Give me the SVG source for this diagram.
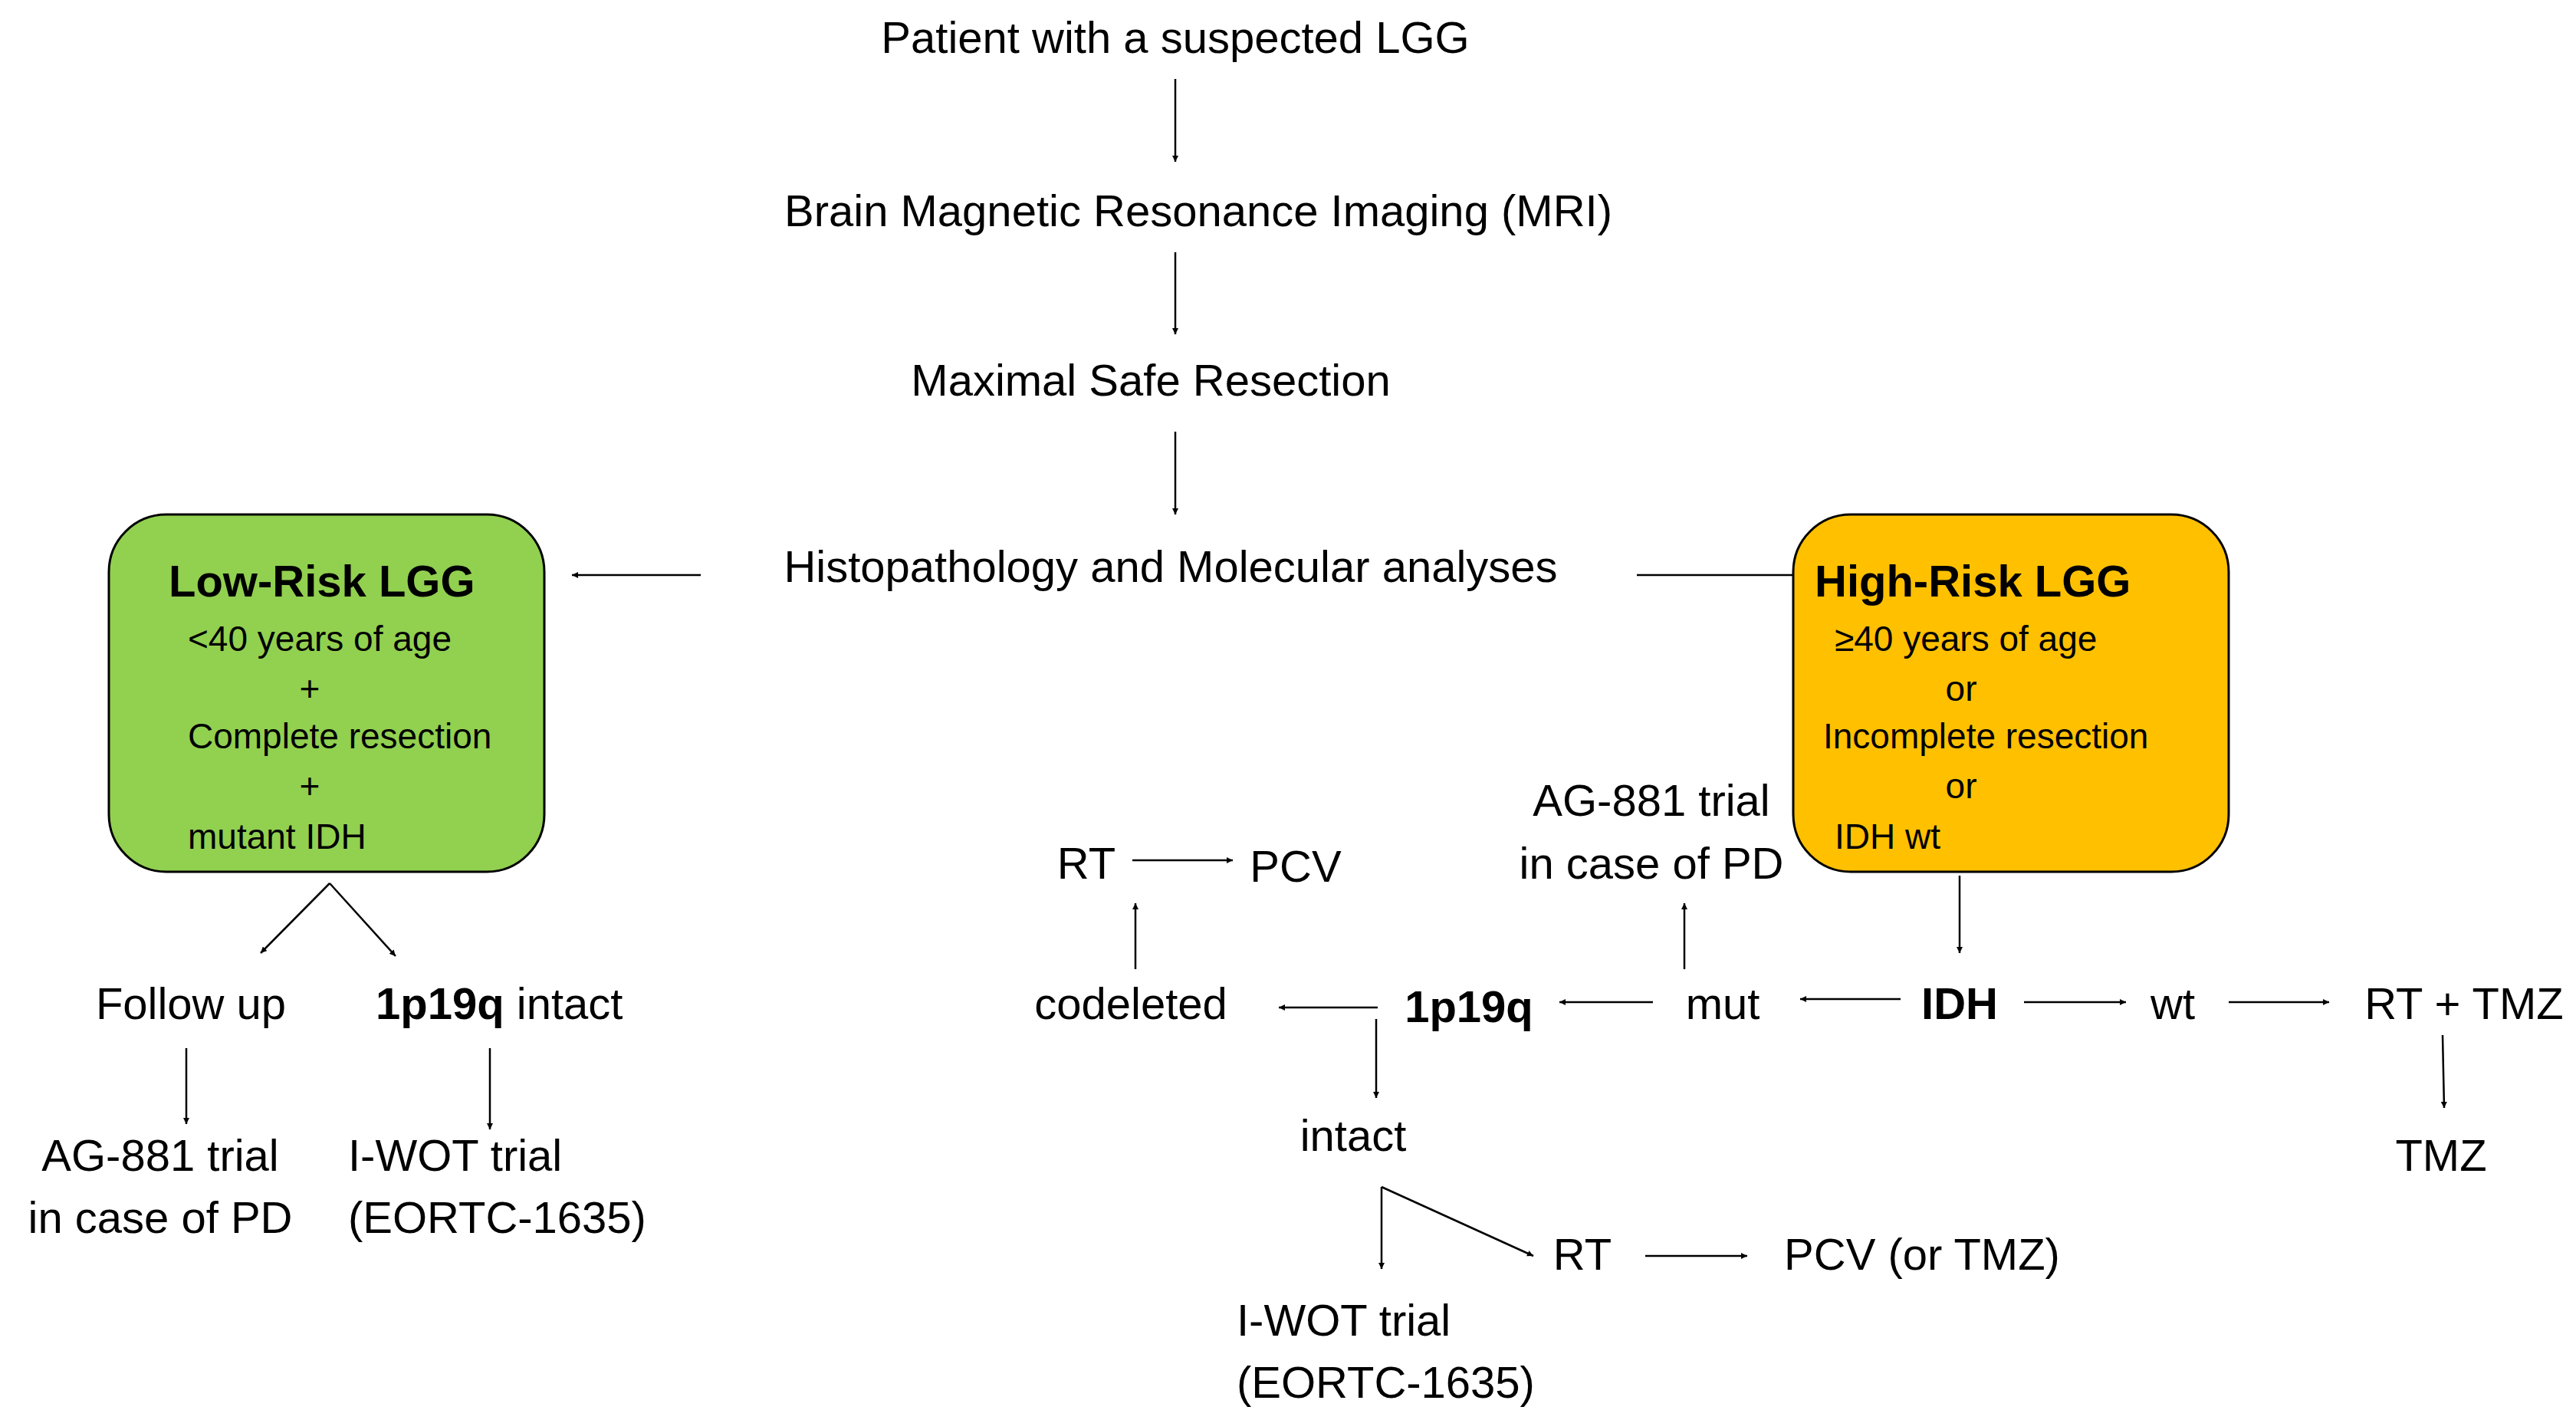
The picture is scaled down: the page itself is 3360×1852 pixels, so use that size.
<svg xmlns="http://www.w3.org/2000/svg" width="3360" height="1852" viewBox="0 0 3360 1852">
<style>
text{font-family:"Liberation Sans",Arial,sans-serif;fill:#000}
.m{font-size:58px}
.s{font-size:46px}
.b{font-weight:bold}
.c{text-anchor:middle}
line{stroke:#000;stroke-width:2.5}
.box{stroke:#000;stroke-width:3}
</style>
<defs>
<marker id="a" viewBox="0 0 10 10" refX="10" refY="5" markerWidth="8" markerHeight="8" markerUnits="userSpaceOnUse" orient="auto"><path d="M0,0L10,5L0,10z" fill="#000"/></marker>
</defs>
<rect width="3360" height="1852" fill="#fff"/>
<g id="connectors" marker-end="url(#a)">
<line x1="1533" y1="103" x2="1533" y2="211" marker-end="url(#a)"/>
<line x1="1533" y1="329" x2="1533" y2="436" marker-end="url(#a)"/>
<line x1="1533" y1="563" x2="1533" y2="671" marker-end="url(#a)"/>
<line x1="914" y1="750" x2="746" y2="750" marker-end="url(#a)"/>
<line x1="2135" y1="750" x2="2361" y2="750" marker-end="url(#a)"/>
<line x1="430" y1="1152" x2="340" y2="1243" marker-end="url(#a)"/>
<line x1="430" y1="1152" x2="516" y2="1247" marker-end="url(#a)"/>
<line x1="243" y1="1367" x2="243" y2="1466" marker-end="url(#a)"/>
<line x1="639" y1="1367" x2="639" y2="1473" marker-end="url(#a)"/>
<line x1="2556" y1="1142" x2="2556" y2="1243" marker-end="url(#a)"/>
<line x1="2640" y1="1307" x2="2773" y2="1307" marker-end="url(#a)"/>
<line x1="2907" y1="1307" x2="3038" y2="1307" marker-end="url(#a)"/>
<line x1="3186" y1="1350" x2="3188" y2="1445" marker-end="url(#a)"/>
<line x1="2479" y1="1303" x2="2348" y2="1303" marker-end="url(#a)"/>
<line x1="2197" y1="1264" x2="2197" y2="1178" marker-end="url(#a)"/>
<line x1="2156" y1="1307" x2="2034" y2="1307" marker-end="url(#a)"/>
<line x1="1797" y1="1314" x2="1668" y2="1314" marker-end="url(#a)"/>
<line x1="1481" y1="1264" x2="1481" y2="1178" marker-end="url(#a)"/>
<line x1="1477" y1="1122" x2="1608" y2="1122" marker-end="url(#a)"/>
<line x1="1795" y1="1329" x2="1795" y2="1432" marker-end="url(#a)"/>
<line x1="1802" y1="1548" x2="1802" y2="1655" marker-end="url(#a)"/>
<line x1="1802" y1="1548" x2="2000" y2="1638" marker-end="url(#a)"/>
<line x1="2146" y1="1638" x2="2279" y2="1638" marker-end="url(#a)"/>
</g>
<g id="n-patient"><text class="m c" x="1533" y="69">Patient with a suspected LGG</text></g>
<g id="n-mri"><text class="m c" x="1563" y="295">Brain Magnetic Resonance Imaging (MRI)</text></g>
<g id="n-resection"><text class="m c" x="1501" y="516">Maximal Safe Resection</text></g>
<g id="n-histo"><text class="m c" x="1527" y="759">Histopathology and Molecular analyses</text></g>
<g id="n-low">
<rect class="box" x="142" y="671" width="568" height="466" rx="75" fill="#92D050"/>
<text class="m b" x="220" y="778">Low-Risk LGG</text>
<text class="s" x="245" y="849">&lt;40 years of age</text>
<text class="s c" x="404" y="914">+</text>
<text class="s" x="245" y="976">Complete resection</text>
<text class="s c" x="404" y="1041">+</text>
<text class="s" x="245" y="1107">mutant IDH</text>
</g>
<g id="n-high">
<rect class="box" x="2339" y="671" width="568" height="466" rx="75" fill="#FFC000"/>
<text class="m b" x="2367" y="778">High-Risk LGG</text>
<text class="s" x="2393" y="849">≥40 years of age</text>
<text class="s c" x="2558" y="914">or</text>
<text class="s" x="2378" y="976">Incomplete resection</text>
<text class="s c" x="2558" y="1041">or</text>
<text class="s" x="2393" y="1107">IDH wt</text>
</g>
<g id="n-follow"><text class="m c" x="249" y="1329">Follow up</text></g>
<g id="n-intact-l"><text class="m" x="490" y="1329"><tspan class="b">1p19q</tspan> intact</text></g>
<g id="n-ag-l"><text class="m c" x="209" y="1527">AG-881 trial</text><text class="m c" x="209" y="1608">in case of PD</text></g>
<g id="n-iwot-l"><text class="m" x="454" y="1527">I-WOT trial</text><text class="m" x="454" y="1608">(EORTC-1635)</text></g>
<g id="n-idh"><text class="m b c" x="2556" y="1329">IDH</text></g>
<g id="n-wt"><text class="m c" x="2834" y="1329">wt</text></g>
<g id="n-rttmz"><text class="m c" x="3214" y="1329">RT + TMZ</text></g>
<g id="n-tmz"><text class="m c" x="3184" y="1527">TMZ</text></g>
<g id="n-mut"><text class="m c" x="2247" y="1329">mut</text></g>
<g id="n-ag-r"><text class="m c" x="2154" y="1064">AG-881 trial</text><text class="m c" x="2154" y="1146">in case of PD</text></g>
<g id="n-1p19q"><text class="m b c" x="1916" y="1333">1p19q</text></g>
<g id="n-codel"><text class="m c" x="1475" y="1329">codeleted</text></g>
<g id="n-rt1"><text class="m c" x="1417" y="1146">RT</text></g>
<g id="n-pcv1"><text class="m c" x="1690" y="1150">PCV</text></g>
<g id="n-intact"><text class="m c" x="1765" y="1501">intact</text></g>
<g id="n-rt2"><text class="m c" x="2064" y="1656">RT</text></g>
<g id="n-pcv2"><text class="m c" x="2507" y="1656">PCV (or TMZ)</text></g>
<g id="n-iwot-r"><text class="m" x="1613" y="1742">I-WOT trial</text><text class="m" x="1613" y="1823">(EORTC-1635)</text></g>
</svg>
